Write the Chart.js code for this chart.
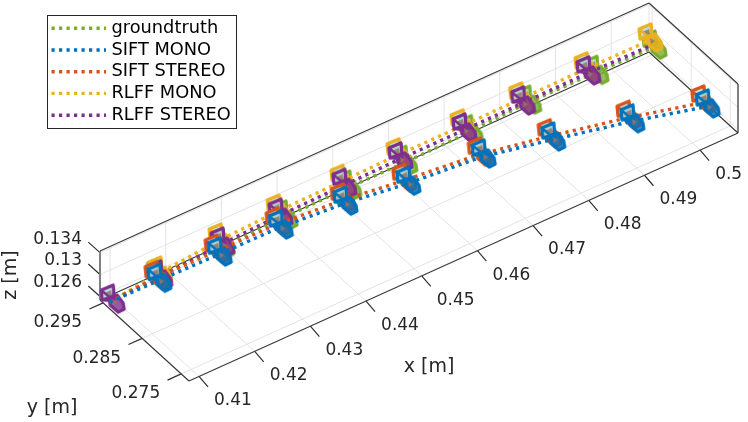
<!DOCTYPE html>
<html><head><meta charset="utf-8">
<style>html,body{margin:0;padding:0;background:#fff}canvas{display:block}</style>
<script src="https://cdn.jsdelivr.net/npm/chart.js@4/dist/chart.umd.min.js"></script>
</head><body><canvas id="c" width="748" height="422"></canvas>
<script>
// ---- Data (metres) ----
const seriesNames = ['groundtruth','SIFT MONO','SIFT STEREO','RLFF MONO','RLFF STEREO'];
const gtX = [.4086,.4178,.4292,.4405,.4521,.4621,.4740,.4849,.4969,.5072];
const gtY = [.2939,.2950,.2950,.2950,.2952,.2951,.2953,.2959,.2958,.2956];
const gtZ = .1260;
const siftMonoX = [.4091,.4175,.4282,.4391,.4500,.4602,.4728,.4834,.4953,.5063];
const siftMonoY = [.2946,.2945,.2943,.2942,.2932,.2916,.2903,.2876,.2843,.2807];
const siftMonoZ = .12535;
const siftStereoX = [.4091,.4175,.4282,.4391,.4501,.4601,.4726,.4834,.4953,.5063];
const siftStereoY = [.2946,.2952,.2951,.2950,.2940,.2925,.2910,.2885,.2853,.2818];
const siftStereoZ = .12535;
const rlffMonoX = [.4077,.4171,.4287,.4395,.4511,.4613,.4728,.4834,.4952,.5067];
const rlffMonoY = [.2925,.2937,.2948,.2953,.2955,.2957,.2957,.2958,.2959,.2959];
const rlffMonoZ = .12735;
const rlffStereoX = [.4082,.4171,.4289,.4397,.4513,.4615,.4730,.4836,.4954,.5068];
const rlffStereoY = [.2932,.2937,.2946,.2951,.2953,.2955,.2955,.2956,.2957,.2955];
const rlffStereoZ = .12665;
const xTicks = [.41,.42,.43,.44,.45,.46,.47,.48,.49,.5];
const yTicks = [.275,.285,.295];
const zTicks = [.126,.13,.134];
const xLim = [.4082,.5068], yLim = [.2730,.2958], zLim = [.12535,.1343];

// ---- View of the 3-D box on the 2-D scales ----
const origin = [189,381], xVec = [549,-248], yVec = [-89,-81], zVec = [0,-49];
function proj(x,y,z){
  const a=(x-xLim[0])/(xLim[1]-xLim[0]), b=(y-yLim[0])/(yLim[1]-yLim[0]), c=(z-zLim[0])/(zLim[1]-zLim[0]);
  return {x:origin[0]+a*xVec[0]+b*yVec[0]+c*zVec[0], y:origin[1]+a*xVec[1]+b*yVec[1]+c*zVec[1]};
}
const GAP = {x:NaN,y:NaN};
const [x0,x1]=xLim,[y0,y1]=yLim,[z0,z1]=zLim;
const seg=(a,b)=>[proj(...a),proj(...b),GAP];

const gridPts=[];
xTicks.forEach(t=>{gridPts.push(...seg([t,y0,z0],[t,y1,z0]),...seg([t,y1,z0],[t,y1,z1]));});
yTicks.forEach(t=>{gridPts.push(...seg([x0,t,z0],[x1,t,z0]),...seg([x1,t,z0],[x1,t,z1]));});
zTicks.forEach(t=>{gridPts.push(...seg([x0,y1,t],[x1,y1,t]),...seg([x1,y1,t],[x1,y0,t]));});
gridPts.push(...seg([x1,y1,z0],[x1,y1,z1]));

const boxPts=[
 ...seg([x0,y1,z1],[x1,y1,z1]),...seg([x1,y1,z1],[x1,y0,z1]),
 ...seg([x0,y1,z0],[x0,y0,z0]),...seg([x0,y0,z0],[x1,y0,z0]),
 ...seg([x0,y1,z0],[x1,y1,z0]),...seg([x1,y1,z0],[x1,y0,z0])
];
const vertPts=[...seg([x0,y1,z0],[x0,y1,z1]),...seg([x1,y0,z0],[x1,y0,z1])];

const xTickOut=[9,10.5], yTickOut=[-13.7,6.2], zTickOut=[-11.7,-10.5];
const tickPts=[];
const addTick=(p,o)=>tickPts.push(p,{x:p.x+o[0],y:p.y+o[1]},GAP);
xTicks.forEach(t=>addTick(proj(t,y0,z0),xTickOut));
yTicks.forEach(t=>addTick(proj(x0,t,z0),yTickOut));
zTicks.forEach(t=>addTick(proj(x0,y1,t),zTickOut));

// ---- Camera glyph used as the point style ----
function icon(color){
  const c=document.createElement('canvas');c.width=c.height=44;
  const g=c.getContext('2d');g.translate(22,22);
  const frame=[[-9,-12],[3,-17],[4,-6],[-8,-2]], apex=[4,-1];
  const body=[[-1,-4],[7,-7],[13,1],[14,7],[8,10],[0,3]];
  const path=p=>{g.beginPath();p.forEach((q,i)=>i?g.lineTo(q[0],q[1]):g.moveTo(q[0],q[1]));g.closePath();};
  g.lineJoin='round';
  path(frame);g.fillStyle='rgba(175,222,218,.85)';g.fill();
  path([[-6,-9],[1,-12],[3,-1]]);g.fillStyle='rgba(140,112,105,.8)';g.fill();
  g.strokeStyle=color;g.lineWidth=3.2;
  path(frame);g.stroke();
  g.lineWidth=2.4;
  frame.forEach(q=>{g.beginPath();g.moveTo(q[0],q[1]);g.lineTo(apex[0],apex[1]);g.stroke();});
  path(body);g.fillStyle=color;g.globalAlpha=.8;g.fill();g.globalAlpha=1;
  g.lineWidth=3.2;
  path(body);g.stroke();
  path([[2,-3],[7,0],[3,3]]);g.fillStyle='rgba(150,118,108,.9)';g.fill();
  return c;
}
const colors={gt:'#77AC30',sm:'#0072BD',ss:'#D95319',rm:'#EDB120',rs:'#7E2F8E'};
const track=(name,xs,ys,z,color,order,hidden)=>{
  const ic=icon(color);
  return {label:name,data:xs.map((x,i)=>proj(x,ys[i],z)),showLine:true,order,
    borderColor:color,borderWidth:3.4,borderDash:[3.2,4.3],borderCapStyle:'butt',tension:0,
    pointStyle:ic,pointRadius:c=>hidden.includes(c.dataIndex)?0:8,pointHoverRadius:8,
    backgroundColor:color,clip:false};
};
const plain=(data,color,width,order)=>({data,showLine:true,order,borderColor:color,borderWidth:width,pointRadius:0,spanGaps:false,tension:0});

const textPlugin={id:'text3d',afterDraw(ch){
  const g=ch.ctx;g.save();
  const tf='17px "DejaVu Sans"';
  g.fillStyle='#262626';g.font=tf;g.textBaseline='middle';
  g.textAlign='left';
  xTicks.forEach(t=>{const p=proj(t,y0,z0);g.fillText(String(t),p.x+15,p.y+24.5);});
  g.textAlign='right';
  yTicks.forEach(t=>{const p=proj(x0,t,z0);g.fillText(String(t),p.x-21,p.y+20);});
  zTicks.forEach(t=>{const p=proj(x0,y1,t);g.fillText(String(t),p.x-18,p.y-13.5);});
  g.font='19px "DejaVu Sans"';g.textAlign='center';
  g.fillText('x [m]',429,367);
  g.fillText('y [m]',52,408);
  g.save();g.translate(11.5,275);g.rotate(-Math.PI/2);g.fillText('z [m]',0,0);g.restore();
  // legend
  g.fillStyle='#fff';g.fillRect(47.5,15.5,189,113);
  g.strokeStyle='#262626';g.lineWidth=1;g.strokeRect(47.5,15.5,189,113);
  const rows=[28.3,50,71.7,93.4,115.3], cs=[colors.gt,colors.sm,colors.ss,colors.rm,colors.rs];
  g.font='17.8px "DejaVu Sans"';g.textAlign='left';
  seriesNames.forEach((n,i)=>{
    g.save();g.setLineDash([3.2,4.3]);g.lineWidth=3.4;g.strokeStyle=cs[i];
    g.beginPath();g.moveTo(51.5,rows[i]);g.lineTo(106,rows[i]);g.stroke();g.restore();
    g.fillStyle='#000';g.fillText(n,111.5,rows[i]);
  });
  g.restore();
}};

new Chart(document.getElementById('c'),{
  type:'scatter',
  data:{datasets:[
    plain(gridPts,'#e3e3e3',1,20),
    plain(boxPts,'#3a3a3a',1.2,19),
    plain(vertPts,'#808080',2,19),
    plain(tickPts,'#303030',1.2,19),
    track(seriesNames[0],gtX,gtY,gtZ,colors.gt,6,[0]),
    track(seriesNames[3],rlffMonoX,rlffMonoY,rlffMonoZ,colors.rm,5,[0]),
    track(seriesNames[4],rlffStereoX,rlffStereoY,rlffStereoZ,colors.rs,4,[9]),
    track(seriesNames[2],siftStereoX,siftStereoY,siftStereoZ,colors.ss,2,[0]),
    track(seriesNames[1],siftMonoX,siftMonoY,siftMonoZ,colors.sm,1,[0])
  ]},
  options:{responsive:false,animation:false,events:[],
    layout:{padding:0,autoPadding:false},
    scales:{x:{type:'linear',min:0,max:748,display:false},y:{type:'linear',min:0,max:422,reverse:true,display:false}},
    plugins:{legend:{display:false},tooltip:{enabled:false},title:{display:false}}},
  plugins:[textPlugin]
});
</script></body></html>
